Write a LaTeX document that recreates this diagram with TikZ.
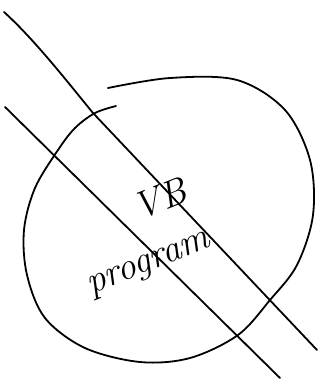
\documentclass[tikz,border=0pt]{standalone}
\begin{document}
\begin{tikzpicture}[x=1pt,y=-1pt,
  stroke/.style={line width=1.8pt,black,line cap=round,line join=round},
  hand/.style={font=\itshape\fontsize{38}{38}\selectfont,inner sep=0pt}]
\useasboundingbox[fill=white] (0,0) rectangle (320,381);
% oval
\draw[stroke] plot[smooth,tension=0.55] coordinates {
 (108,88) (170,78) (237,80) (285,110) (310,160) (313,215) (297,265) (270,300)
 (238,335) (190,358) (140,362) (85,348) (45,318) (27,275) (24,230) (35,188)
 (58,150) (75,128) (95,113) (116,106)};
% lines
\draw[stroke] (4,12) .. controls (35,40) and (70,85) .. (93,113) -- (317,350);
\draw[stroke] (5,107) -- (280,378);
% text
\node[hand,rotate=22] (vb) at (160,199) {VB};
\node[hand,rotate=22] (prog) at (150,266) {program};
\end{tikzpicture}
\end{document}
